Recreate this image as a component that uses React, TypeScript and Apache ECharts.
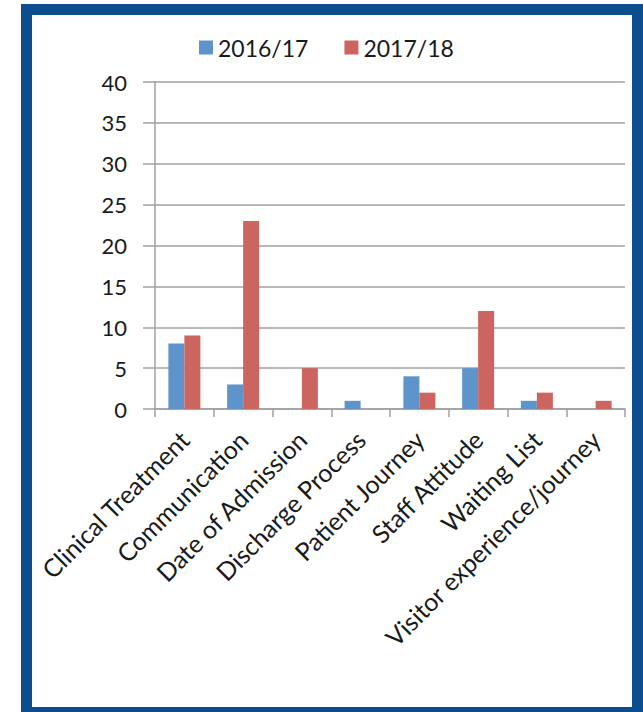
import React, { useEffect, useRef } from "react";
import * as echarts from "echarts";

const categories = [
  "Clinical Treatment",
  "Communication",
  "Date of Admission",
  "Discharge Process",
  "Patient Journey",
  "Staff Attitude",
  "Waiting List",
  "Visitor experience/journey",
];
const series1617 = [8, 3, 0, 1, 4, 5, 1, 0];
const series1718 = [9, 23, 5, 0, 2, 12, 2, 1];
const seriesNames = ["2016/17", "2017/18"];

const FONT = "Lato, 'Open Sans', sans-serif";

export default function App() {
  const ref = useRef<HTMLDivElement>(null);
  useEffect(() => {
    if (!ref.current) return;
    const chart = echarts.init(ref.current, undefined, { renderer: "svg" });
    chart.setOption({
      animation: false,
      backgroundColor: "#ffffff",
      textStyle: { fontFamily: FONT },
      graphic: [
        {
          type: "rect",
          shape: { x: 26.5, y: 9.5, width: 611, height: 703 },
          style: { fill: "none", stroke: "#0b4d8f", lineWidth: 11 },
          z: 100,
        },
      ],
      legend: {
        left: 194,
        top: 31,
        itemWidth: 14,
        itemHeight: 14,
        itemGap: 36,
        icon: "rect",
        textStyle: { fontSize: 23, color: "#1a1a1a", fontFamily: FONT },
        data: seriesNames,
      },
      grid: { left: 155, right: 18, top: 82, bottom: 303, containLabel: false },
      xAxis: {
        type: "category",
        data: categories,
        boundaryGap: true,
        axisLine: { lineStyle: { color: "#a0a0a0", width: 1.5 } },
        axisTick: { show: true, length: 8, lineStyle: { color: "#a0a0a0", width: 1.5 } },
        axisLabel: {
          rotate: 45,
          margin: 26,
          interval: 0,
          fontSize: 25,
          color: "#1a1a1a",
          fontFamily: FONT,
        },
      },
      yAxis: {
        type: "value",
        min: 0,
        max: 40,
        interval: 5,
        axisLine: { show: true, lineStyle: { color: "#a0a0a0", width: 1.5 } },
        axisTick: { show: true, inside: false, length: 12, lineStyle: { color: "#a0a0a0", width: 1.5 } },
        splitLine: { show: true, lineStyle: { color: "#a0a0a0", width: 1.5 } },
        axisLabel: { margin: 28, fontSize: 22, color: "#1a1a1a", fontFamily: FONT },
      },
      series: [
        {
          name: seriesNames[0],
          type: "bar",
          data: series1617,
          barWidth: 16,
          barGap: "0%",
          itemStyle: { color: "#5f94cb" },
        },
        {
          name: seriesNames[1],
          type: "bar",
          data: series1718,
          barWidth: 16,
          itemStyle: { color: "#cc645f" },
        },
      ],
    });
    return () => chart.dispose();
  }, []);
  return (
    <div
      ref={ref}
      style={{ position: "fixed", left: 0, top: 0, width: 643, height: 712 }}
    />
  );
}
